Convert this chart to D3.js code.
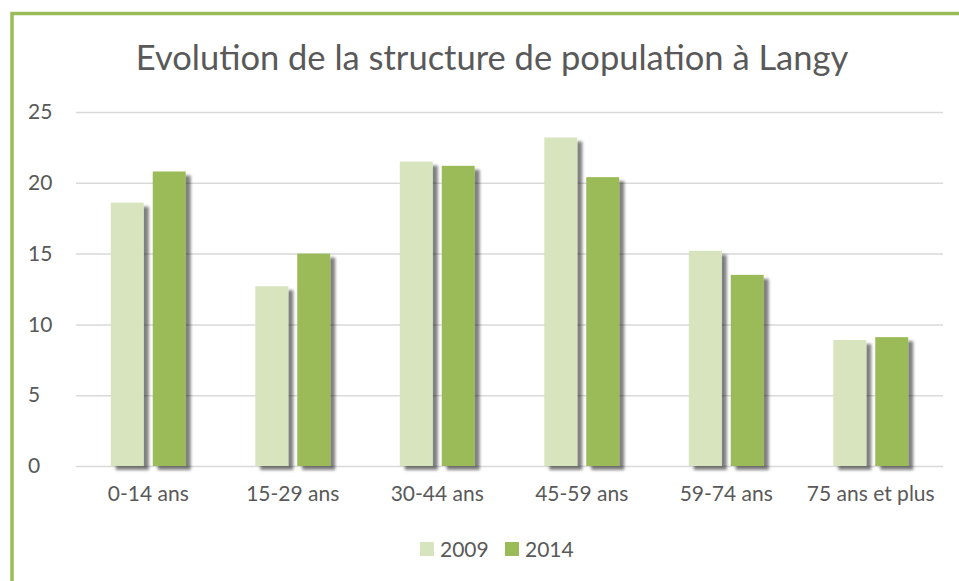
<!DOCTYPE html>
<html>
<head>
<meta charset="utf-8">
<title>Evolution de la structure de population à Langy</title>
<script src="https://d3js.org/d3.v7.min.js"></script>
<style>
	body{ margin: 0; background: #fff; }
	svg{ display: block; font-family: Lato, "Open Sans", sans-serif; }
	.tick text{ fill: #595959; font-size: 21px; font-family: Lato, "Open Sans", sans-serif; }
</style>
</head>
<body>
<script>
	// data
	var categories = ['0-14 ans', '15-29 ans', '30-44 ans', '45-59 ans', '59-74 ans', '75 ans et plus']
	var series = ['2009', '2014']
	var values2009 = [18.6, 12.7, 21.5, 23.2, 15.2, 8.9]
	var values2014 = [20.8, 15.0, 21.2, 20.4, 13.5, 9.1]
	var yTicks = [0, 5, 10, 15, 20, 25]

	var colors = {'2009': '#d7e4bd', '2014': '#9bbb59'}
	var W = 959, H = 581
	var margin = {top: 112, right: 16, bottom: 115, left: 76}
	var width = W - margin.left - margin.right
	var height = H - margin.top - margin.bottom

	var svg = d3.select('body').append('svg')
				.attr('width', W)
				.attr('height', H)

	var defs = svg.append('defs')
	var f = defs.append('filter').attr('id', 'shadow')
				.attr('x', '-20%').attr('y', '-5%').attr('width', '160%').attr('height', '115%')
	f.append('feGaussianBlur').attr('in', 'SourceAlpha').attr('stdDeviation', 1.5).attr('result', 'b')
	f.append('feOffset').attr('in', 'b').attr('dx', 5).attr('dy', 4).attr('result', 'o')
	f.append('feComponentTransfer').attr('in', 'o').attr('result', 's')
	 .append('feFuncA').attr('type', 'linear').attr('slope', 0.5)
	var fm = f.append('feMerge')
	fm.append('feMergeNode').attr('in', 's')
	fm.append('feMergeNode').attr('in', 'SourceGraphic')

	// frame: green line at left and top
	svg.append('path')
	   .attr('d', 'M12,' + H + ' V13.5 H' + W)
	   .attr('fill', 'none')
	   .attr('stroke', '#9bbb59')
	   .attr('stroke-width', 3.5)

	svg.append('text')
	   .attr('x', 492)
	   .attr('y', 70)
	   .attr('text-anchor', 'middle')
	   .style('font-size', '34.5px')
	   .style('fill', '#595959')
	   .text('Evolution de la structure de population à Langy')

	var g = svg.append('g')
			   .attr('transform', 'translate(' + margin.left + ',' + margin.top + ')')

	var x0 = d3.scaleBand().domain(categories).range([0, width]).paddingInner(0).paddingOuter(0)
	var x1 = d3.scaleBand().domain(series).range([0, x0.bandwidth()]).paddingInner(0.214).paddingOuter(0.83)
	var y = d3.scaleLinear().domain([0, 25]).range([height, 0])

	var yAxis = d3.axisLeft(y).tickValues(yTicks).tickSize(-width).tickPadding(24)
	var ya = g.append('g').call(yAxis)
	ya.select('.domain').remove()
	ya.selectAll('.tick line').attr('stroke', '#d9d9d9').attr('stroke-width', 1.5)
	ya.selectAll('.tick text').attr('text-anchor', 'start').attr('x', -48)

	var rows = categories.map(function(c, i){
		return {cat: c, vals: [{s: '2009', v: values2009[i]}, {s: '2014', v: values2014[i]}]}
	})

	var grp = g.selectAll('.cat').data(rows).enter()
			   .append('g')
			   .attr('class', 'cat')
			   .attr('transform', function(d){ return 'translate(' + x0(d.cat) + ',0)' })
	grp.selectAll('rect').data(function(d){ return d.vals }).enter()
	   .append('rect')
	   .attr('x', function(d){ return x1(d.s) })
	   .attr('y', function(d){ return y(d.v) })
	   .attr('width', x1.bandwidth())
	   .attr('height', function(d){ return height - y(d.v) })
	   .attr('fill', function(d){ return colors[d.s] })
	   .attr('filter', 'url(#shadow)')

	var xAxis = d3.axisBottom(x0).tickSize(0).tickPadding(20)
	var xa = g.append('g')
			  .attr('transform', 'translate(0,' + height + ')')
			  .call(xAxis)
	xa.select('.domain').remove()

	// legend
	var legend = svg.append('g').attr('transform', 'translate(420,549)')
	var items = legend.selectAll('g').data(series).enter()
					  .append('g')
					  .attr('transform', function(d, i){ return 'translate(' + (i * 85) + ',0)' })
	items.append('rect')
		 .attr('x', 0).attr('y', -7)
		 .attr('width', 14).attr('height', 14)
		 .attr('fill', function(d){ return colors[d] })
	items.append('text')
		 .attr('x', 20).attr('y', 7.5)
		 .style('font-size', '21px')
		 .style('fill', '#595959')
		 .text(function(d){ return d })
</script>
</body>
</html>
